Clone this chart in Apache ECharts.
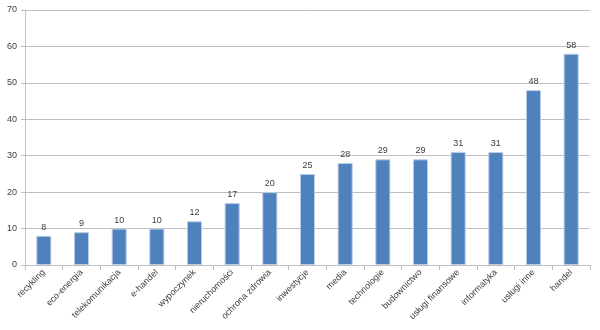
<!DOCTYPE html>
<html><head><meta charset="utf-8">
<script src="https://cdn.jsdelivr.net/npm/echarts@6/dist/echarts.min.js"></script>
<style>html,body{margin:0;padding:0;background:#fff}#c{width:600px;height:330px}</style>
</head><body><div id="c"></div>
<script>
const categories = ["recykling","eco-energia","telekomunikacja","e-handel","wypoczynek","nieruchomości","ochrona zdrowia","inwestycje","media","technologie","budownictwo","usługi finansowe","informatyka","usługi inne","handel"];
const values = [8,9,10,10,12,17,20,25,28,29,29,31,31,48,58];
const yTicks = [0,10,20,30,40,50,60,70];

const chart = echarts.init(document.getElementById('c'), null, {renderer:'canvas'});
chart.setOption({
  animation:false,
  grid:{left:25,right:10,top:10,bottom:65,containLabel:false},
  xAxis:{type:'category',data:categories,
    axisLine:{lineStyle:{color:'#BFBFBF'}},
    axisTick:{show:true,length:5,lineStyle:{color:'#BFBFBF'}},
    axisLabel:{rotate:45,fontSize:9,color:'#404040',fontFamily:'Liberation Sans',margin:6,interval:0}},
  yAxis:{type:'value',min:yTicks[0],max:yTicks[yTicks.length-1],interval:10,
    axisLine:{show:true,lineStyle:{color:'#BFBFBF'}},
    axisTick:{show:true,length:4,lineStyle:{color:'#BFBFBF'}},
    axisLabel:{fontSize:9,color:'#404040',fontFamily:'Liberation Sans',margin:8},
    splitLine:{lineStyle:{color:'#BFBFBF'}}},
  series:[{type:'bar',data:values,barWidth:'40%',
    itemStyle:{color:'#4F81BD',borderColor:'#B9CDE5',borderWidth:1},
    label:{show:true,position:'top',fontSize:9,color:'#404040',fontFamily:'Liberation Sans',distance:4}}]
});
</script></body></html>
